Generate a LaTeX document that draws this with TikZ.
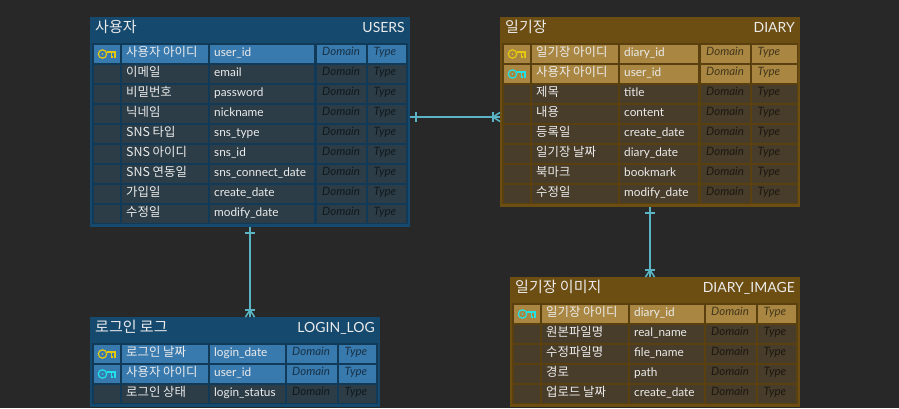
\documentclass[tikz,border=0pt]{standalone}
\usepackage{fontspec}
\setmainfont{Lato}
\newfontfamily\krfont{Noto Sans CJK KR}
\usetikzlibrary{calc}

\definecolor{canvasgray}{HTML}{282828}
\definecolor{bluehead}{HTML}{15496E}
\definecolor{blueedge}{HTML}{113A59}
\definecolor{blueon}{HTML}{397AAE}
\definecolor{blueoff}{HTML}{2C3D47}
\definecolor{brownhead}{HTML}{6D4E12}
\definecolor{brownedge}{HTML}{5A400F}
\definecolor{brownon}{HTML}{A98742}
\definecolor{brownoff}{HTML}{483C2A}
\definecolor{relteal}{HTML}{5AB4C4}
\definecolor{keyyellow}{HTML}{E6C80F}
\definecolor{keycyan}{HTML}{1FE3E6}

\tikzset{
  tablebox/.style = {anchor=north west, inner sep=0, outer sep=0},
  cellbox/.style = {anchor=north west, inner sep=0, outer sep=0, minimum height=18pt},
  headlog/.style = {anchor=base west, inner sep=0, text=white!92!black, font=\krfont\fontsize{15}{16}\selectfont},
  headphy/.style = {anchor=base east, inner sep=0, text=white!92!black, font=\fontsize{14}{15}\selectfont},
  logtext/.style = {anchor=base west, inner sep=0, text=white!92!black, font=\krfont\fontsize{12.4}{13}\selectfont},
  phytext/.style = {anchor=base west, inner sep=0, text=white!92!black, font=\fontsize{11.8}{13}\selectfont},
  faintext/.style = {anchor=base west, inner sep=0, text=black, text opacity=.6, font=\itshape\fontsize{11.5}{12}\selectfont},
  relation/.style = {draw=relteal, line width=1.6pt},
  pics/keyicon/.style = {code = {
    \draw[#1, line width=1.2pt] (-4.5,0) circle (4.2pt);
    \fill[#1] (-4.5,0) circle (.8pt);
    \draw[#1, line width=1.2pt] (-0.3,-2) -- (8,-2) -- (8,3.5) (4.6,-2) -- (4.6,3) -- (6.2,3);
  }},
  pics/onebar/.style = {code = {
    \draw[relation] (6,-5) -- (6,5);
  }},
  pics/crowmany/.style = {code = {
    \draw[relation] (-7,-5) -- (-7,5);
    \draw[relation] (-7,0) -- (0,-4.5) (-7,0) -- (0,4.5);
  }},
}

% name, x, y, width, height, logical name, physical name, colour prefix
\newcommand{\erdtable}[8]{
  \node[tablebox, fill=#8head, minimum width=#4pt, minimum height=#5pt] (#1) at (#2,#3) {};
  \node[tablebox, fill=#8edge, minimum width=#4pt-4pt, minimum height=#5pt-29pt] (#1-body) at ($(#2,#3)+(2,26)$) {};
  \node[headlog] (#1-log) at ([xshift=5pt,yshift=-15pt]#1.north west) {#6};
  \node[headphy] (#1-phy) at ([xshift=-5pt,yshift=-15pt]#1.north east) {#7};
}

% table, top of first row, columns, rows
\newcommand{\erdrows}[4]{
  \foreach \logname/\phyname/\rowfill [count=\rownum] in {#4} {
    \pgfmathsetmacro{\rowtop}{#2+20*(\rownum-1)}
    \foreach \colname/\colx/\colw in {#3} {
      \node[cellbox, fill=\rowfill, minimum width=\colw pt] (#1-\rownum-\colname) at (\colx,\rowtop) {};
    }
    \node[logtext] (#1-\rownum-logtext) at ([xshift=4pt,yshift=7pt]#1-\rownum-l.south west) {\logname};
    \node[phytext] (#1-\rownum-phytext) at ([xshift=4pt,yshift=6.6pt]#1-\rownum-p.south west) {\phyname};
    \node[faintext] (#1-\rownum-domain) at ([xshift=5pt,yshift=7.5pt]#1-\rownum-d.south west) {Domain};
    \node[faintext] (#1-\rownum-type) at ([xshift=5.5pt,yshift=7.5pt]#1-\rownum-t.south west) {Type};
  }
}

\begin{document}
\begin{tikzpicture}[x=1pt, y=-1pt]
\useasboundingbox[fill=canvasgray] (0,0) rectangle (899,408);

\erdtable{users}{90}{17}{320}{210}{사용자}{USERS}{blue}
\erdrows{users}{45}{k/94/26, l/122/86, p/210/104, d/317/49, t/368/38}{
  사용자 아이디/user\_id/blueon, 이메일/email/blueoff, 비밀번호/password/blueoff,
  닉네임/nickname/blueoff, SNS 타입/sns\_type/blueoff, SNS 아이디/sns\_id/blueoff,
  SNS 연동일/sns\_connect\_date/blueoff, 가입일/create\_date/blueoff, 수정일/modify\_date/blueoff}

\erdtable{diary}{500}{17}{300}{190}{일기장}{DIARY}{brown}
\erdrows{diary}{45}{k/504/26, l/532/86, p/620/78, d/701/49, t/752/45}{
  일기장 아이디/diary\_id/brownon, 사용자 아이디/user\_id/brownon, 제목/title/brownoff,
  내용/content/brownoff, 등록일/create\_date/brownoff, 일기장 날짜/diary\_date/brownoff,
  북마크/bookmark/brownoff, 수정일/modify\_date/brownoff}

\erdtable{loginlog}{90}{317}{290}{90}{로그인 로그}{LOGIN\_LOG}{blue}
\erdrows{loginlog}{345}{k/94/26, l/122/86, p/210/75, d/287/50, t/339/37}{
  로그인 날짜/login\_date/blueon, 사용자 아이디/user\_id/blueon, 로그인 상태/login\_status/blueoff}

\erdtable{diaryimage}{510}{277}{290}{130}{일기장 이미지}{DIARY\_IMAGE}{brown}
\erdrows{diaryimage}{305}{k/514/26, l/542/86, p/630/74, d/706/50, t/758/38}{
  일기장 아이디/diary\_id/brownon, 원본파일명/real\_name/brownoff, 수정파일명/file\_name/brownoff,
  경로/path/brownoff, 업로드 날짜/create\_date/brownoff}

\pic at (users-1-k) {keyicon=keyyellow};
\pic at (diary-1-k) {keyicon=keyyellow};
\pic at (diary-2-k) {keyicon=keycyan};
\pic at (loginlog-1-k) {keyicon=keyyellow};
\pic at (loginlog-2-k) {keyicon=keycyan};
\pic at (diaryimage-1-k) {keyicon=keycyan};

\coordinate (usersdiary) at ($(users.east)!.5!(diary.west)$);
\coordinate (usersend) at (users.east |- usersdiary);
\coordinate (diaryend) at (diary.west |- usersdiary);
\coordinate (logend) at (users.south |- loginlog.north);
\coordinate (imageend) at (diary.south |- diaryimage.north);

\draw[relation] (usersend) -- (diaryend);
\draw[relation] (users.south) -- (logend);
\draw[relation] (diary.south) -- (imageend);

\pic at (usersend) {onebar};
\pic at (diaryend) {crowmany};
\pic[rotate=-90] at (users.south) {onebar};
\pic[rotate=-90] at (logend) {crowmany};
\pic[rotate=-90] at (diary.south) {onebar};
\pic[rotate=-90] at (imageend) {crowmany};
\end{tikzpicture}
\end{document}
